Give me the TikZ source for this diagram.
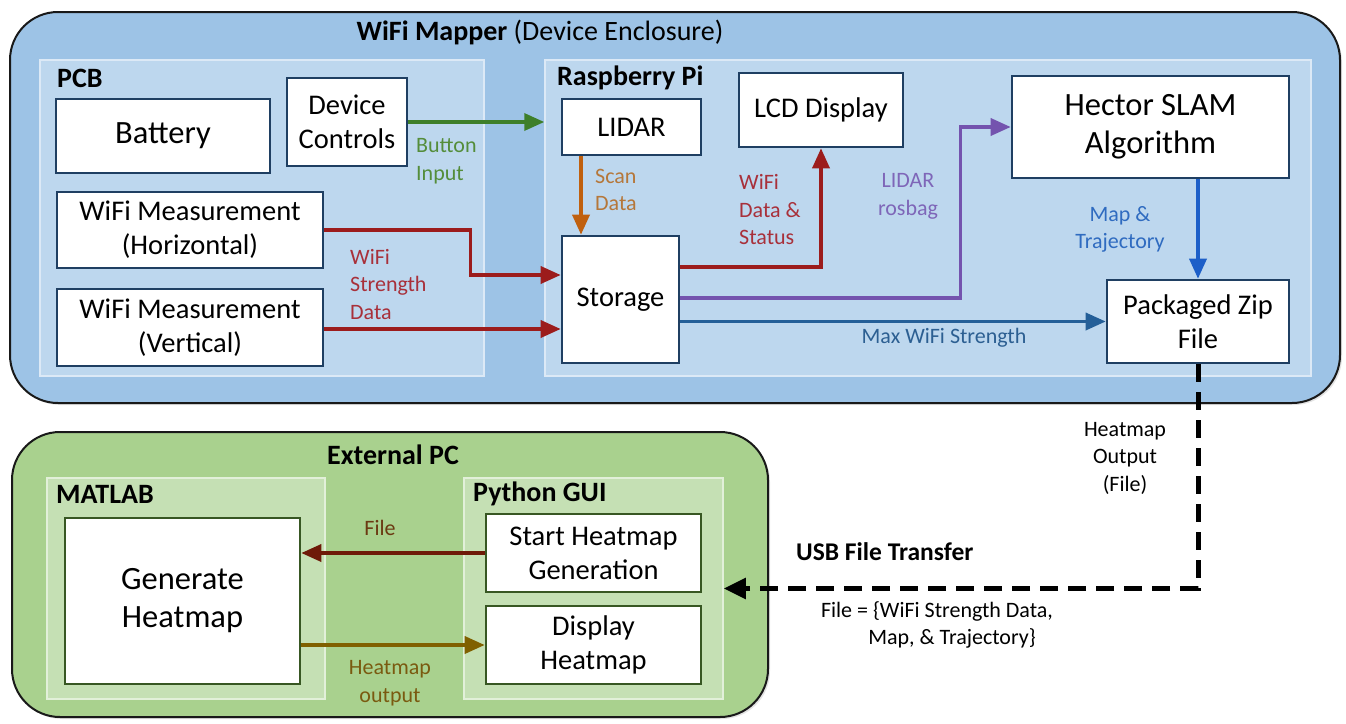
\documentclass[tikz,border=0pt]{standalone}
\usepackage{fontspec}
\setmainfont{Carlito}
\usepackage{xcolor}
\usepackage{tikz}
\usetikzlibrary{arrows.meta,positioning,shadows}
\definecolor{wmEncl}{HTML}{9DC3E6}
\definecolor{wmPanel}{HTML}{BDD7EE}
\definecolor{wmPanelEdge}{HTML}{DCE9F6}
\definecolor{wmBox}{HTML}{1F3F62}
\definecolor{pcEncl}{HTML}{A9D18E}
\definecolor{pcPanel}{HTML}{C5E0B4}
\definecolor{pcPanelEdge}{HTML}{E2F0D9}
\definecolor{pcBox}{HTML}{385723}
\definecolor{arGreen}{HTML}{3E7F2A}
\definecolor{txGreen}{HTML}{548D3A}
\definecolor{arOrange}{HTML}{C0600F}
\definecolor{txOrange}{HTML}{B5773A}
\definecolor{arRed}{HTML}{9C1C1C}
\definecolor{txRed}{HTML}{A8303A}
\definecolor{arPurple}{HTML}{7453AE}
\definecolor{txPurple}{HTML}{7E66B8}
\definecolor{arBlue}{HTML}{1D5FC8}
\definecolor{txBlue}{HTML}{2F6BC0}
\definecolor{arSteel}{HTML}{245F98}
\definecolor{txSteel}{HTML}{2C5F92}
\definecolor{arMaroon}{HTML}{6E1A08}
\definecolor{txMaroon}{HTML}{6B3A12}
\definecolor{arOlive}{HTML}{806000}
\definecolor{txOlive}{HTML}{7A5A10}

\begin{document}
\begin{tikzpicture}[
    x=1pt,y=-1pt,
    encl/.style={draw=black!90,line width=2pt,rounded corners=48pt,inner sep=0pt,
                 drop shadow={opacity=0.22,shadow xshift=2pt,shadow yshift=-2pt}},
    panel/.style={line width=1.5pt,inner sep=0pt},
    box/.style={fill=white,line width=2.6pt,inner sep=0pt,align=center,
                font=\fontsize{28.5}{34}\selectfont},
    bigbox/.style={box,font=\fontsize{32.5}{38}\selectfont},
    ttl/.style={inner sep=0pt,font=\fontsize{28}{34}\selectfont},
    plbl/.style={inner sep=0pt,anchor=west,font=\fontsize{28}{34}\selectfont\bfseries},
    lbl/.style={inner sep=0pt,align=left,font=\fontsize{22}{27.5}\selectfont},
    ar/.style={line width=3.5pt,-{Triangle[length=20pt,width=17pt]}},
    usb/.style={line width=5pt,dash pattern=on 18pt off 10pt,
                -{Triangle[length=22pt,width=20pt]}}
  ]
    \useasboundingbox (0,0) rectangle (1346,723);

    % device enclosure
    \node[encl,fill=wmEncl,minimum width=1330pt,minimum height=391pt] (enc) at (675,207.5) {};
    \node[ttl] (enctitle) at (540,32) {\textbf{WiFi Mapper} (Device Enclosure)};
    \node[panel,draw=wmPanelEdge,fill=wmPanel,minimum width=444pt,minimum height=316pt] (pcb) at (262,218) {};
    \node[panel,draw=wmPanelEdge,fill=wmPanel,minimum width=766pt,minimum height=316pt] (rpi) at (928,218) {};
    \node[plbl] (pcblbl) at (57,78) {PCB};
    \node[plbl] (rpilbl) at (557,78) {Raspberry Pi};

    \node[bigbox,draw=wmBox,minimum width=214pt,minimum height=74pt] (battery) at (163,136) {Battery};
    \node[box,draw=wmBox,minimum width=120pt,minimum height=88pt] (devctl) at (347,122) {Device\\Controls};
    \node[box,draw=wmBox,minimum width=266pt,minimum height=76pt] (wifih) at (190,230) {WiFi Measurement\\(Horizontal)};
    \node[box,draw=wmBox,minimum width=266pt,minimum height=77pt] (wifiv) at (190,327.5) {WiFi Measurement\\(Vertical)};
    \node[box,draw=wmBox,minimum width=139pt,minimum height=56pt] (lidar) at (631.5,127) {LIDAR};
    \node[box,draw=wmBox,minimum width=117pt,minimum height=127pt] (storage) at (620.5,299.5) {Storage};
    \node[box,draw=wmBox,minimum width=164pt,minimum height=74pt] (lcd) at (821,110) {LCD Display};
    \node[bigbox,draw=wmBox,minimum width=277pt,minimum height=102pt] (hector) at (1150.5,127) {Hector SLAM\\Algorithm};
    \node[box,draw=wmBox,minimum width=182pt,minimum height=83pt] (pkg) at (1198,321.5) {Packaged Zip\\File};

    % external pc
    \node[encl,fill=pcEncl,minimum width=756pt,minimum height=285pt] (ext) at (390,574.5) {};
    \node[ttl,font=\fontsize{28}{34}\selectfont\bfseries] (exttitle) at (393,455) {External PC};
    \node[panel,draw=pcPanelEdge,fill=pcPanel,minimum width=278pt,minimum height=221pt] (matlab) at (186,588.5) {};
    \node[panel,draw=pcPanelEdge,fill=pcPanel,minimum width=259pt,minimum height=221pt] (pygui) at (593.5,588.5) {};
    \node[plbl] (matlablbl) at (56,494) {MATLAB};
    \node[plbl] (pyguilbl) at (473,494) {Python GUI};

    \node[bigbox,draw=pcBox,minimum width=235pt,minimum height=166pt] (genheat) at (182.5,601) {Generate\\Heatmap};
    \node[box,draw=pcBox,minimum width=215pt,minimum height=78pt] (startheat) at (593.5,553) {Start Heatmap\\Generation};
    \node[box,draw=pcBox,minimum width=215pt,minimum height=78pt] (dispheat) at (593.5,645) {Display\\Heatmap};

    % connectors
    \draw[ar,arGreen] (devctl.east) -- (devctl.east -| rpi.west);
    \node[lbl,text=txGreen,anchor=west] (btnlbl) at (416,161) {Button\\Input};

    \draw[ar,arRed] (wifih.east) -- ++(146,0) |- ([yshift=24.5pt]storage.west);
    \draw[ar,arRed] ([yshift=-1.5pt]wifiv.east) -- ([yshift=-29.5pt]storage.west);
    \node[lbl,text=txRed,anchor=west] (wifilbl) at (350,284.5) {WiFi\\Strength\\Data};

    \draw[ar,arOrange] ([xshift=-50.5pt]lidar.south) -- ([xshift=-50.5pt]lidar.south |- storage.north);
    \node[lbl,text=txOrange,anchor=west] (scanlbl) at (595,190) {Scan\\Data};

    \draw[ar,arRed] ([yshift=32.5pt]storage.east) -| (lcd.south);
    \node[lbl,text=txRed,anchor=west] (statuslbl) at (739,210) {WiFi\\Data \&\\Status};

    \draw[ar,arPurple] ([yshift=1.5pt]storage.east) -- ++(280,0) |- (hector.west);
    \node[lbl,text=txPurple,align=center] (rosbaglbl) at (908,196.5) {LIDAR\\rosbag};

    \draw[ar,arBlue] (pkg.north |- hector.south) -- (pkg.north);
    \node[lbl,text=txBlue,align=center] (maplbl) at (1120,229.5) {Map \&\\Trajectory};

    \draw[ar,arSteel] (pkg.west -| storage.east) -- (pkg.west);
    \node[lbl,text=txSteel] (maxlbl) at (944,338) {Max WiFi Strength};

    \draw[usb] (pkg.south) |- (pygui.east);
    \node[lbl,align=center] (outlbl) at (1125,458) {Heatmap\\Output\\(File)};
    \node[lbl,anchor=west,font=\fontsize{25.5}{30}\selectfont\bfseries] (usblbl) at (796,552) {USB File Transfer};
    \node[lbl,align=center] (filelbl) at (937,625) {File = \{WiFi Strength Data,\\\hspace*{30pt}Map, \& Trajectory\}};

    \draw[ar,arMaroon] (startheat.west) -- (startheat.west -| genheat.east);
    \node[lbl,text=txMaroon] (fileto) at (380,528) {File};
    \draw[ar,arOlive] (genheat.east |- dispheat.west) -- (dispheat.west);
    \node[lbl,text=txOlive,align=center] (heatlbl) at (390,683) {Heatmap\\output};
  \end{tikzpicture}
\end{document}
